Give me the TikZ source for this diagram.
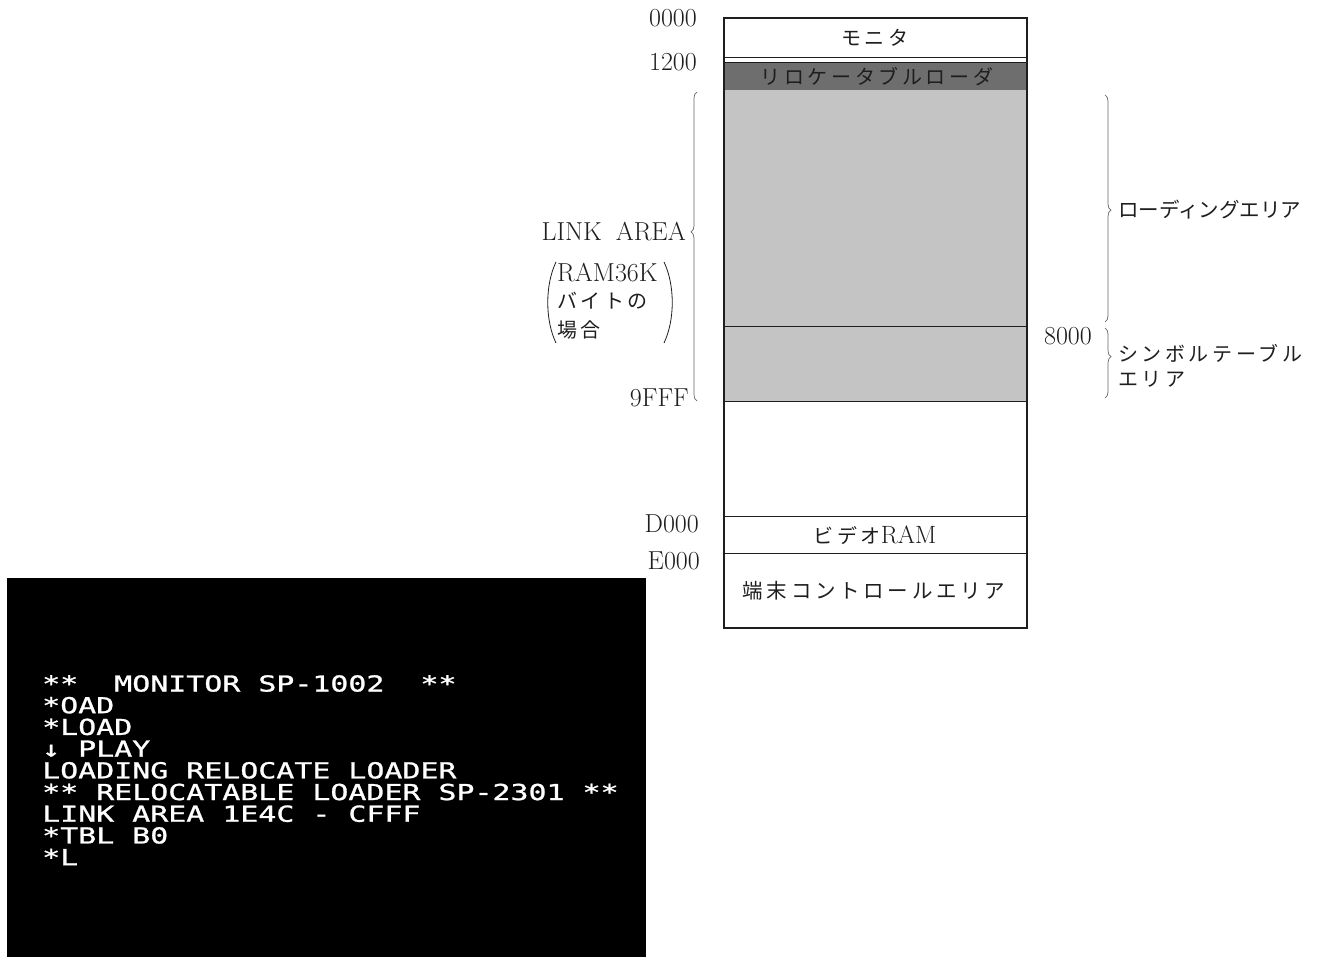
\documentclass[tikz,border=0pt]{standalone}
\usepackage{fontspec}
\newfontfamily\lm{Latin Modern Roman 10 Regular}
\newfontfamily\jp{Noto Sans CJK JP}
\newfontfamily\jpw{Noto Sans CJK JP}[LetterSpace=18]
\newfontfamily\scr{DejaVu Sans Mono}[FakeStretch=1.36,FakeBold=1.2]
\usetikzlibrary{decorations.pathreplacing}
\definecolor{darkband}{HTML}{6E6E6E}
\definecolor{lightband}{HTML}{C4C4C4}
\definecolor{ink}{HTML}{1E1E1E}
\tikzset{
  addr/.style={font=\lm\fontsize{26}{28}\selectfont, inner sep=0pt, text=ink},
  jlab/.style={font=\jp\fontsize{20.5}{24}\selectfont, inner sep=0pt, text=ink},
  jwide/.style={font=\jpw\fontsize{20}{24}\selectfont, inner sep=0pt, text=ink},
  brc/.style={decorate, decoration={brace, amplitude=6pt, aspect=#1}, draw=gray!80!black, line width=0.7pt},
  sep/.style={draw=ink, line width=0.8pt},
  scrtext/.style={font=\scr\fontsize{22}{21.7}\selectfont, text=white, align=left, inner sep=0pt, anchor=north west}
}
\begin{document}
\begin{tikzpicture}[x=1pt,y=-1pt]
\useasboundingbox (0,0) rectangle (1322,957);
% memory map fills
\fill[darkband] (724,62) rectangle (1027,90);
\fill[lightband] (724,90) rectangle (1027,401);
\draw[sep] (724,57) -- (1027,57);
\draw[sep] (724,62) -- (1027,62);
\draw[sep] (724,326) -- (1027,326);
\draw[sep] (724,401) -- (1027,401);
\draw[sep] (724,516) -- (1027,516);
\draw[sep] (724,553) -- (1027,553);
\node[draw=ink, line width=2.4pt, minimum width=303pt, minimum height=610pt, inner sep=0pt] (mem) at (875.5,323) {};
% labels inside
\node[jwide] (mon) at (875,38) {モニタ};
\node[jwide] (rel) at (877,77) {リロケータブルローダ};
\node[jwide] (vram) at (875,535) {ビデオ\lm\fontsize{25}{26}\selectfont RAM};
\node[jwide, font=\jpw\fontsize{20.5}{24}\selectfont] (term) at (874,591) {端末コントロールエリア};
% addresses
\node[addr, anchor=east] (a0) at (697,18) {0000};
\node[addr, anchor=east] (a1) at (697,62) {1200};
\node[addr, anchor=east] (a9) at (689,398) {9FFF};
\node[addr, anchor=east] (ad) at (699,524) {D000};
\node[addr, anchor=east] (ae) at (700,561) {E000};
\node[addr, anchor=east] (a8) at (1092,336) {8000};
% left brace and label
\coordinate (lb1) at (697,401);
\coordinate (lb2) at (697,92);
\draw[brc=0.547] (lb1) -- (lb2);
\node[addr, anchor=east] (link) at (686,232) {LINK\hspace{14pt}AREA};
\draw[draw=ink, line width=0.8pt] (556,262) .. controls (545,285) and (545,320) .. (556,343);
\draw[draw=ink, line width=0.8pt] (664,262) .. controls (675,285) and (675,320) .. (664,343);
\node[addr, anchor=west] (ram) at (557,273) {RAM36K};
\node[jwide, anchor=west] (byte) at (557,301) {バイトの};
\node[jwide, anchor=west] (case) at (557,330) {場合};
% right braces and labels
\coordinate (rb1) at (1105,95);
\coordinate (rb2) at (1105,322);
\draw[brc=0.507] (rb1) -- (rb2);
\coordinate (rb3) at (1105,328);
\coordinate (rb4) at (1105,398);
\draw[brc=0.41] (rb3) -- (rb4);
\node[jlab, anchor=west] (load) at (1118,210) {ローディングエリア};
\node[jwide, anchor=west] (sym1) at (1118,353) {シンボルテーブル};
\node[jwide, anchor=west] (sym2) at (1118,379) {エリア};
% screen
\fill[black] (7,578) rectangle (646,957);
\node[scrtext] (screen) at (42,675) {**~~MONITOR~SP-1002~~**\\
*OAD\\
*LOAD\\
↓~PLAY\\
LOADING~RELOCATE~LOADER\\
**~RELOCATABLE~LOADER~SP-2301~**\\
LINK~AREA~1E4C~-~CFFF\\
*TBL~B0\\
*L};
\end{tikzpicture}
\end{document}
